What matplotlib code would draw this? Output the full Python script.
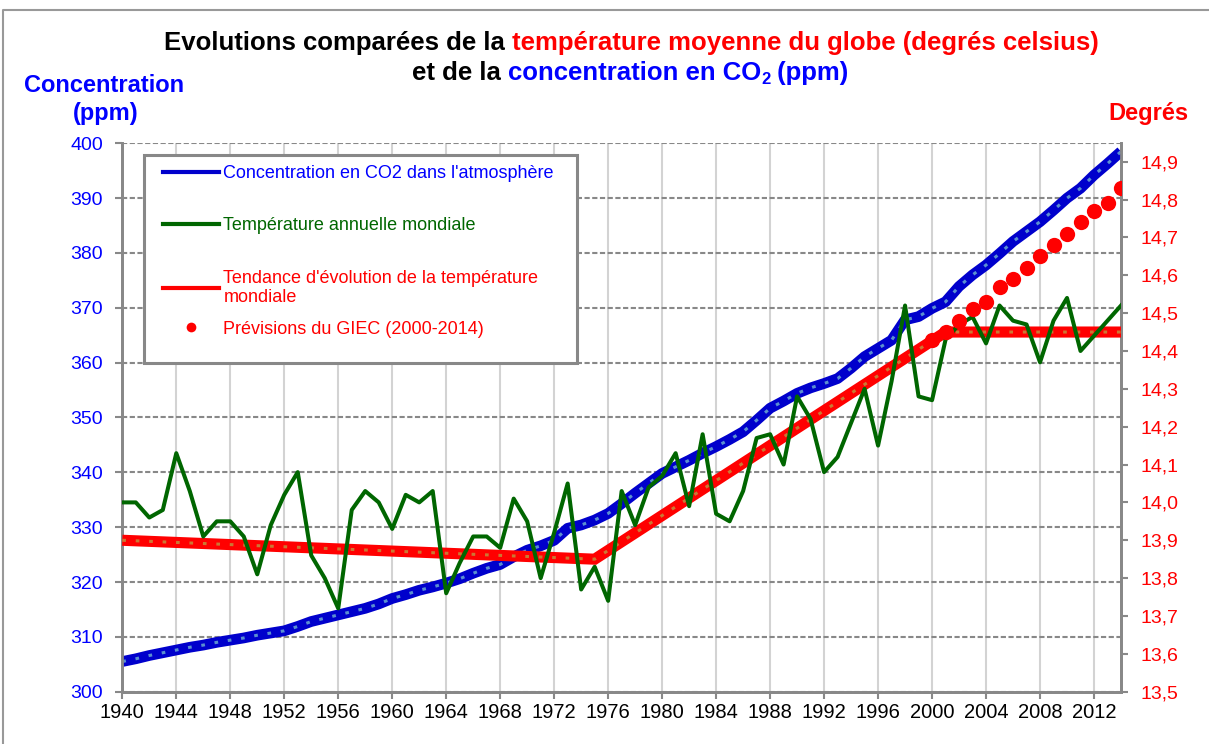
import matplotlib
matplotlib.use("Agg")
import matplotlib.pyplot as plt
from matplotlib.lines import Line2D
from matplotlib.patches import Rectangle

plt.rcParams["font.family"] = ["Liberation Sans", "DejaVu Sans"]

# --- data ---
years = list(range(1940, 2015))

co2_ppm = [
    305.5, 306.0, 306.6, 307.1, 307.6, 308.1, 308.5, 309.0, 309.4, 309.8,
    310.3, 310.7, 311.1, 311.9, 312.8, 313.4, 314.0, 314.6, 315.2, 316.0,
    317.0, 317.7, 318.5, 319.1, 319.8, 320.6, 321.6, 322.5, 323.2, 324.6,
    325.8, 326.6, 327.6, 329.8, 330.4, 331.3, 332.5, 334.3, 336.2, 338.0,
    339.8, 341.0, 342.2, 343.5, 344.7, 346.0, 347.4, 349.5, 351.7, 353.0,
    354.4, 355.4, 356.2, 357.1, 359.0, 361.1, 362.6, 364.1, 367.8, 368.4,
    369.9, 371.1, 373.9, 376.0, 377.8, 379.9, 382.1, 383.9, 385.7, 387.8,
    390.0, 391.8, 394.2, 396.3, 398.5,
]

temp_annual = [
    14.00, 14.00, 13.96, 13.98, 14.13, 14.03, 13.91, 13.95, 13.95, 13.91,
    13.81, 13.94, 14.02, 14.08, 13.86, 13.80, 13.72, 13.98, 14.03, 14.00,
    13.93, 14.02, 14.00, 14.03, 13.76, 13.84, 13.91, 13.91, 13.88, 14.01,
    13.95, 13.80, 13.92, 14.05, 13.77, 13.83, 13.74, 14.03, 13.94, 14.04,
    14.07, 14.13, 13.99, 14.18, 13.97, 13.95, 14.03, 14.17, 14.18, 14.10,
    14.28, 14.22, 14.08, 14.12, 14.21, 14.30, 14.15, 14.32, 14.52, 14.28,
    14.27, 14.43, 14.47, 14.49, 14.42, 14.52, 14.48, 14.47, 14.37, 14.48,
    14.54, 14.40, 14.44, 14.48, 14.52,
]

trend_years = [1940, 1975, 2001, 2014]
trend_temp = [13.90, 13.85, 14.45, 14.45]

giec_years = list(range(2000, 2015))
giec_temp = [14.43, 14.45, 14.48, 14.51, 14.53, 14.57, 14.59, 14.62,
             14.65, 14.68, 14.71, 14.74, 14.77, 14.79, 14.83]

xticks = list(range(1940, 2013, 4))
ppm_ticks = list(range(300, 401, 10))
deg_ticks = [13.5 + 0.1 * i for i in range(15)]

BLUE_TXT = "#0000FF"
RED = "#FF0000"
BLUE_LINE = "#0000CC"
GREEN = "#006600"
GRID = "#888888"

fig = plt.figure(figsize=(12.09, 7.44), dpi=100)
W, H = 1209, 744
ax = fig.add_axes([122.3 / W, 1 - 691.7 / H, (1121 - 122.3) / W, (691.7 - 143.3) / H])
ax2 = ax.twinx()

# axes ranges and ticks
ax.set_xlim(1940, 2014)
ax.set_ylim(300, 400)
ax2.set_ylim(13.5, 14.9485)
ax.set_xticks(xticks)
ax.set_xticklabels([str(y) for y in xticks], fontsize=14.5)
ax.set_yticks(ppm_ticks)
ax.set_yticklabels([str(v) for v in ppm_ticks], fontsize=14, color=BLUE_TXT)
ax2.set_yticks(deg_ticks)
ax2.set_yticklabels([f"{v:.1f}".replace(".", ",") for v in deg_ticks], fontsize=14, color=RED)

for a in (ax, ax2):
    a.spines["top"].set_visible(False)
    for s in ("left", "right", "bottom"):
        a.spines[s].set_color(GRID)
        a.spines[s].set_linewidth(2)
ax.tick_params(axis="x", direction="out", length=5, width=1.5, color=GRID, pad=3)
ax.tick_params(axis="y", direction="out", length=5, width=1.5, color=GRID, pad=9)
ax2.tick_params(axis="y", direction="out", length=5, width=1.5, color=GRID, pad=9)

# grid
ax.set_axisbelow(True)
ax.xaxis.grid(True, color="#D3D3D3", linewidth=1.5, linestyle="-")
ax.yaxis.grid(True, color=GRID, linewidth=1.5, linestyle=(0, (2.5, 1.2)))

# CO2 concentration (thick blue with a dotted light core)
ax.plot(years, co2_ppm, color=BLUE_LINE, linewidth=7.7, solid_capstyle="butt", zorder=3)
ax.plot(years, co2_ppm, color="#5B8FD0", linewidth=2.2, linestyle=(0, (1.2, 3.2)), zorder=4)

# temperature trend, annual temperature, IPCC forecast
ax2.plot(trend_years, trend_temp, color=RED, linewidth=8, solid_capstyle="butt",
         solid_joinstyle="miter", zorder=3)
ax2.plot(trend_years, trend_temp, color="#CC7733", linewidth=2.2,
         linestyle=(0, (1.2, 3.2)), zorder=4)
ax2.plot(years, temp_annual, color=GREEN, linewidth=2.9, zorder=5)
ax2.plot(giec_years, giec_temp, linestyle="none", marker="o", markersize=11,
         color=RED, markeredgewidth=0, zorder=6)

# legend with a fixed frame like the original (last entry sits closer, as in Excel)
frame = Rectangle((0.0217, 0.5994), 0.4336, 0.3793, transform=ax2.transAxes,
                  facecolor="white", edgecolor=GRID, linewidth=2.2, zorder=7)
ax2.add_patch(frame)
handles = [
    Line2D([], [], color=BLUE_LINE, linewidth=3),
    Line2D([], [], color=GREEN, linewidth=3),
    Line2D([], [], color=RED, linewidth=3),
    Line2D([], [], color=RED, linestyle="none", marker="o", markersize=7, markeredgewidth=0),
]
labels = [
    "Concentration en CO2 dans l'atmosphère",
    "Température annuelle mondiale",
    "Tendance d'évolution de la température\nmondiale",
    "Prévisions du GIEC (2000-2014)",
]
label_colors = [BLUE_TXT, GREEN, RED, RED]
leg_kw = dict(frameon=False, fontsize=13, handlelength=3.1, handletextpad=0.25,
              labelspacing=1.95, borderpad=0.5, borderaxespad=0)
leg = ax2.legend(handles[:3], labels[:3], loc="upper left",
                 bbox_to_anchor=(0.0317, 0.9767), **leg_kw)
leg.set_zorder(8)
for txt, c in zip(leg.get_texts(), label_colors[:3]):
    txt.set_color(c)
ax2.add_artist(leg)
leg2 = ax2.legend(handles[3:], labels[3:], loc="center left",
                  bbox_to_anchor=(0.0317, 0.6608), **leg_kw)
leg2.set_zorder(8)
for txt, c in zip(leg2.get_texts(), label_colors[3:]):
    txt.set_color(c)


def colored_line(y_px, parts, cx_px):
    """Draw a centred line of text made of differently coloured segments."""
    renderer = fig.canvas.get_renderer()
    items = []
    for text, color, size, dy in parts:
        t = fig.text(0, 1 - (y_px + dy) / H, text, color=color, fontsize=size,
                     fontweight="bold", va="baseline", ha="left")
        w = t.get_window_extent(renderer).width
        items.append((t, w))
    total = sum(w for _, w in items)
    x = cx_px - total / 2
    for t, w in items:
        t.set_x(x / W)
        x += w


colored_line(50, [("Evolutions comparées de la ", "black", 18.5, 0),
                  ("température moyenne du globe (degrés celsius)", RED, 18.5, 0)], 631)
colored_line(80, [("et de la ", "black", 18.5, 0),
                  ("concentration en CO", BLUE_TXT, 18.5, 0),
                  ("2", BLUE_TXT, 12, 4),
                  (" (ppm)", BLUE_TXT, 18.5, 0)], 630)

fig.text(104 / W, 1 - 91.7 / H, "Concentration", color=BLUE_TXT, fontsize=17,
         fontweight="bold", ha="center", va="baseline")
fig.text(106 / W, 1 - 120 / H, "(ppm)", color=BLUE_TXT, fontsize=17,
         fontweight="bold", ha="center", va="baseline")
fig.text(1148 / W, 1 - 120 / H, "Degrés", color=RED, fontsize=17,
         fontweight="bold", ha="center", va="baseline")

# outer chart border (top and left edges visible in the original)
fig.add_artist(Line2D([3 / W, 3 / W, 1.0], [0.0, 1 - 10 / H, 1 - 10 / H],
                      transform=fig.transFigure, color="#999999", linewidth=1.5))

fig.savefig("out.png", dpi=100)
